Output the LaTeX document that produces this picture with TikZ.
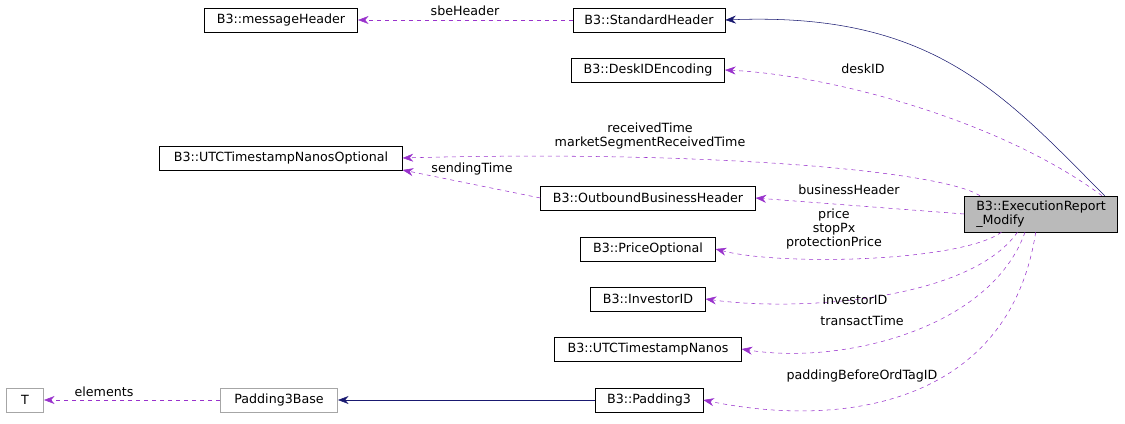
\documentclass[tikz,border=0pt]{standalone}
\usepackage{fontspec}
\setmainfont{DejaVu Sans}
\usetikzlibrary{arrows.meta}
\definecolor{usecol}{RGB}{153,50,204}
\definecolor{inhcol}{RGB}{25,25,112}
\tikzset{
  cls/.style={draw=black, fill=white, inner sep=0pt, minimum height=18pt, font=\fontsize{9.5}{10.5}\selectfont},
  grey/.style={cls, draw=black!35},
  uses/.style={draw=usecol, dashed, -{Stealth[length=8pt,width=6pt]}},
  inherit/.style={draw=inhcol, -{Stealth[length=8pt,width=6pt]}},
  lbl/.style={font=\fontsize{9.5}{10.5}\selectfont, align=center, inner sep=0pt}
}
\begin{document}
\begin{tikzpicture}[x=0.75pt, y=-0.75pt]
	\useasboundingbox (0,0) rectangle (1125,424);
	% classes
	\node[cls, minimum width=115pt] (msg) at (281,20) {B3::messageHeader};
	\node[cls, minimum width=114pt] (std) at (649,20) {B3::StandardHeader};
	\node[cls, minimum width=115pt] (desk) at (648,70) {B3::DeskIDEncoding};
	\node[cls, minimum width=182pt] (utcopt) at (281,158) {B3::UTCTimestampNanosOptional};
	\node[cls, minimum width=161pt] (obh) at (648,198) {B3::OutboundBusinessHeader};
	\node[cls, fill=black!27, minimum width=115pt, minimum height=27pt, align=left] (exec) at (1041,214) {B3::ExecutionReport\\\_Modify};
	\node[cls, minimum width=101pt] (price) at (648,249) {B3::PriceOptional};
	\node[cls, minimum width=86pt] (inv) at (648,299) {B3::InvestorID};
	\node[cls, minimum width=140pt] (utc) at (648,349) {B3::UTCTimestampNanos};
	\node[cls, minimum width=81pt] (pad) at (649,400) {B3::Padding3};
	\node[grey, minimum width=88pt] (pbase) at (279,400) {Padding3Base};
	\node[grey, minimum width=28pt] (T) at (25,400) {T};

	% inheritance
	\draw[inherit] ([xshift=-10pt]exec.north east) .. controls (1000,90) and (930,12) .. (std.east);
	\draw[inherit] (pad.west) -- (pbase.east);

	% members
	\draw[uses] (std.west) -- (msg.east);
	\draw[uses] ([xshift=-12pt]exec.north east) .. controls (1000,120) and (830,75) .. (desk.east);
	\draw[uses] ([xshift=12pt]exec.north west) .. controls (940,170) and (700,150) .. (utcopt.east);
	\draw[uses] (obh.west) -- (utcopt.east |- 0,170);
	\draw[uses] (exec.west) -- (obh.east);
	\draw[uses] ([xshift=28pt]exec.south west) .. controls (960,262) and (780,266) .. (price.east);
	\draw[uses] ([xshift=40pt]exec.south west) .. controls (970,300) and (800,312) .. (inv.east);
	\draw[uses] ([xshift=-12pt]exec.south) .. controls (990,330) and (840,365) .. (utc.east);
	\draw[uses] ([xshift=-4pt]exec.south) .. controls (1010,400) and (850,430) .. (pad.east);
	\draw[uses] (pbase.west) -- (T.east);

	% member names
	\node[lbl] (lsbe) at (465,11) {sbeHeader};
	\node[lbl] (ldesk) at (863,69) {deskID};
	\node[lbl] (lrecv) at (650,136) {receivedTime\\marketSegmentReceivedTime};
	\node[lbl] (lsend) at (472,169) {sendingTime};
	\node[lbl] (lbus) at (849,190) {businessHeader};
	\node[lbl] (lprice) at (834,229) {price\\stopPx\\protectionPrice};
	\node[lbl] (linv) at (855,300) {investorID};
	\node[lbl] (ltrans) at (862,321) {transactTime};
	\node[lbl] (lpad) at (862,376) {paddingBeforeOrdTagID};
	\node[lbl] (lelem) at (104,392) {elements};
\end{tikzpicture}
\end{document}
